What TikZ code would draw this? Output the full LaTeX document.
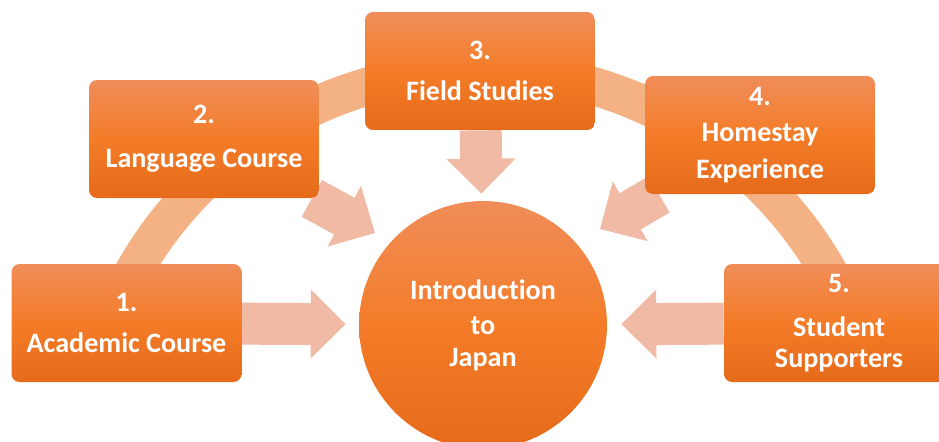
\documentclass[tikz,border=0pt]{standalone}
\usepackage{fontspec}
\setmainfont{Carlito}[Ligatures=NoCommon]
\usetikzlibrary{arrows.meta,backgrounds}
\definecolor{boxtop}{RGB}{240,141,89}
\definecolor{boxmid}{RGB}{244,124,40}
\definecolor{boxbot}{RGB}{229,106,26}
\definecolor{ringcol}{RGB}{244,178,132}
\definecolor{arrowcol}{RGB}{241,186,164}
\tikzset{
	stepbox/.style={rectangle, rounded corners=0.16cm, minimum width=4.6cm, minimum height=2.36cm, inner sep=0pt,
		top color=boxtop, bottom color=boxbot, middle color=boxmid, text=white, align=center,
		font=\bfseries\fontsize{16}{18}\selectfont},
	hubcircle/.style={circle, minimum size=4.96cm, inner sep=0pt,
		top color=boxtop, bottom color=boxbot, middle color=boxmid, text=white, align=center,
		font=\bfseries\fontsize{16}{18}\selectfont},
	bigarrow/.style={draw=arrowcol, line width=0.84cm, -{Triangle[width=1.34cm,length=0.7cm]}},
	ring/.style={draw=ringcol, line width=0.76cm}
}
\begin{document}
\begin{tikzpicture}[x=0.02cm, y=-0.02cm]
			%%%%% START %%%%%
			\useasboundingbox (0,0) rectangle (939,441);
			
			\node[hubcircle] (intro) at (483,325) {Introduction\\[2pt]to\\Japan};
			
			\node[stepbox] (acad) at (126.5,323) {1.\\[5pt]Academic Course};
			\node[stepbox] (lang) at (204,139) {2.\\[7pt]Language Course};
			\node[stepbox] (field) at (480,71) {3.\\[5pt]Field Studies};
			\node[stepbox] (home) at (760,135) {4.\\[3pt]Homestay\\[3pt]Experience};
			\node[stepbox] (supp) at (839,323) {5.\\[7pt]Student\\Supporters};
			
			\coordinate (ringc) at (481,470);
			\coordinate (tiplang) at (375,233);
			\coordinate (tiphome) at (600,229);
			
			\begin{scope}[on background layer]
				\draw[ring] (ringc) ++(-155:400) arc (-155:-25:400);
				\draw[bigarrow, shorten >=0.26cm] (acad) -- (intro);
				\draw[bigarrow] (lang) -- (tiplang);
				\draw[bigarrow, shorten >=0.14cm] (field) -- (intro);
				\draw[bigarrow] (home) -- (tiphome);
				\draw[bigarrow, shorten >=0.28cm] (supp) -- (intro);
			\end{scope}
			%%%%% END %%%%%
\end{tikzpicture}
\end{document}
